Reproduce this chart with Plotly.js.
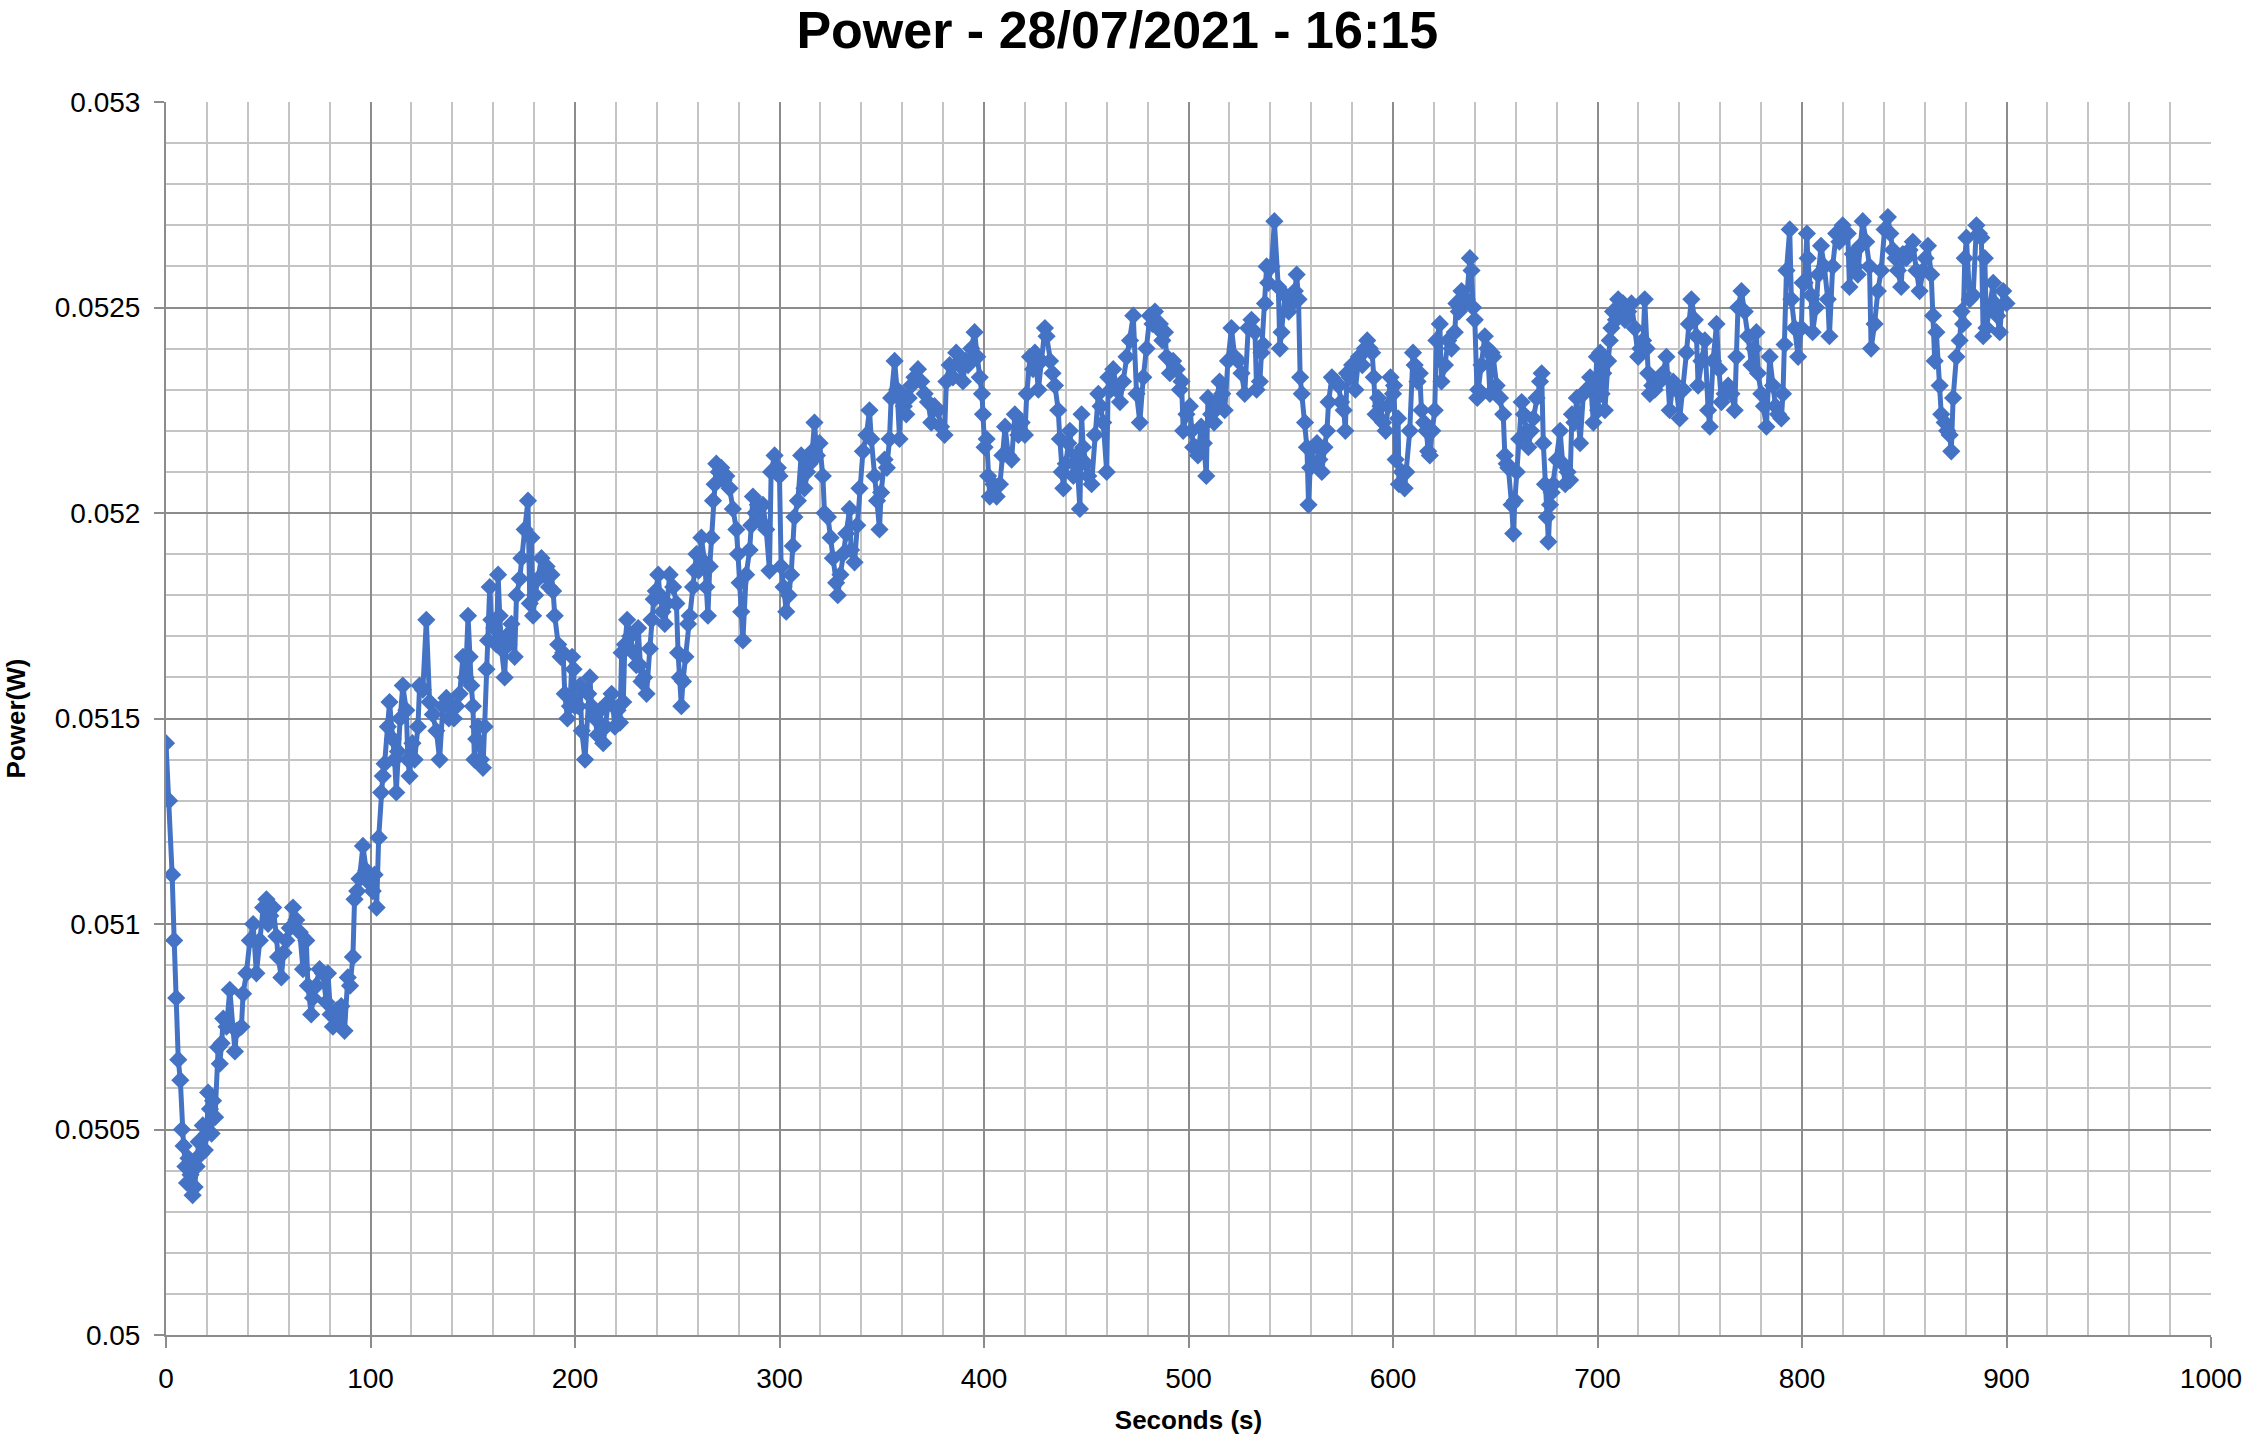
<!DOCTYPE html>
<html>
<head>
<meta charset="utf-8">
<script src="https://cdn.plot.ly/plotly-3.0.1.min.js"></script>
<style>html,body{margin:0;padding:0;background:#fff;}#chart{width:2248px;height:1447px;}</style>
</head>
<body>
<div id="chart"></div>
<script>
const chartTitle = 'Power - 28/07/2021 - 16:15';
const xAxisTitle = 'Seconds (s)';
const yAxisTitle = 'Power(W)';

// time stamps (s)
const seconds = [
0,1.5,3,4,5,6,7,7.8,8.6,9.5,
10.3,11,12,13,14,15,16,17,18,19,
20,20.6,21.5,22.3,23,24,25.5,26.3,27.2,28,
29.6,31.2,33.7,34.5,36.9,37.7,39.3,41,42.6,44.2,
45.9,47.5,49.1,49.9,51,52.4,54,54.8,56.4,57.5,
58.9,60.5,62.1,63.7,65.4,67,68.6,69.4,71,71.9,
73.5,75.1,76.7,78.4,79.2,80.5,81.6,83.3,84.5,85.7,
87.3,88.9,90,91.4,92.2,93.5,94.6,96.3,97.9,99.5,
101.1,102,103,104,105.2,106,106.9,108.5,109.3,110.9,
111.8,112.6,113.4,114.5,115.8,117.5,118.3,119.1,120.5,121.6,
123.2,124,125.6,127.3,128.9,130.5,132.2,133.8,135.4,137.1,
138.3,139.5,140.8,142,143.6,145.2,146.5,147.7,148.5,149.3,
150.1,150.8,151.7,152.6,154,155,155.8,156.7,157.5,158.3,
159.1,160.5,161.6,162.4,163.2,164,165.6,166.4,167.5,168.9,
170.5,171.4,173,173.8,175.4,177,177.9,178.7,179.5,180.5,
182,183.6,185,186.1,187.3,188.5,189.3,190.1,191.8,193,
194.2,195,196.3,197.5,198.6,199.3,200,201.6,202.5,203.3,
204.9,206.5,207.3,208.1,209.8,211,212.2,213.8,215,216.3,
217.9,219.5,220.8,222,222.8,223.6,224.4,225.5,227,228.5,
230,230.9,231.7,232.5,233.8,235,236.6,237.4,238.5,239.5,
240.7,241.5,242.8,243.9,245,246.3,248,249.6,250.4,251.2,
252,252.8,254,255.3,256.1,257.7,258.5,259.4,260.5,261.8,
263.4,264.2,265,265.9,266.7,267.5,268.3,269.1,270.3,271.5,
272.7,274,275.6,277.2,278.9,279.7,280.5,281.3,282.1,283.7,
285.4,286.2,287,288.2,289.4,290.6,291.9,293.5,295.1,295.9,
297.6,298.4,299.2,300,300.8,302,303.3,304.5,305.7,306.5,
307.3,309,310.6,312.2,313.5,314.7,316,317.1,318.3,319.6,
321.2,322,323.7,325,326.1,327.7,328.5,329.8,331,332.6,
334.3,335,336.7,338,339.1,340.8,342.5,344,344.9,346.5,
347.7,348.9,349.7,351.4,352.5,353.8,354.6,356.3,357.5,358.7,
359.5,360.8,362,363.2,364.4,366,367.7,369.3,371,372.6,
374.2,375.8,377.5,379,380.7,381.6,383.2,384.8,386.4,388,
389.7,391,392.2,393.8,395.4,396.7,397.9,399,399.5,400.3,
401.3,402,402.8,404.6,406.2,407.8,409,410.3,411.9,413.5,
415.1,416.8,418.4,420,420.9,422.5,424,424.9,426.6,428,
429.8,430.6,432.3,433.5,434.7,436.3,437.1,438,438.8,440,
441.2,442,443.7,445.3,446.9,447.7,448.5,449.8,451,452.6,
454.2,455.9,457,458.3,460,460.8,462,463.2,464.8,466.5,
468,469.7,471.4,473,474.6,476.2,477.9,479.5,481.1,482.4,
483.6,485,486,487.2,488.5,489.3,490.9,492.5,494.2,495.8,
496.6,497.4,499,500.7,501.5,502.3,503.5,504.6,506.2,507.5,
508.7,509.5,511.1,512.5,513.6,515.2,516.5,517.7,519.3,521,
522.6,524.3,525.9,527.5,529.2,530.8,532.5,533.3,534.9,535.7,
536.5,537.4,538.2,539,540.6,542,543.9,544.7,545.5,547.2,
549,550.5,552,552.9,553.8,554.6,555.4,557,557.9,558.7,
559.5,561,562.8,564,565.2,566.5,567.7,568.5,570.1,571.8,
573.4,574.6,575.9,576.7,577.5,578.8,580,581.6,583.3,585,
586.2,587.4,588.6,589.8,590.6,591.5,592.7,593.9,595.2,596.4,
597.6,598.8,600,600.5,601.3,602.5,602.9,604.3,605.7,606.5,
608.2,609.8,610.6,612,613.1,613.9,615.2,616.3,617.2,618,
619.2,620.4,621.2,622.9,623.7,625.4,627,628.6,630.2,631,
632.2,633.5,634.8,636,637.6,638.4,639.2,640,641.2,641.7,
643.3,644.9,646.2,647.4,648.2,649,650.7,652.3,653.9,654.7,
655.6,656.4,658,658.8,659.6,660.5,661.7,662.9,664,665.4,
666.2,667.5,668.6,670.2,671.9,672.7,673.5,674.3,675.2,676,
676.8,677.6,678.4,680.1,681.7,683,684.2,685.4,686.6,687.5,
688.7,689.9,691.5,693.1,694.7,696.4,698,699.7,700.3,701.3,
702,702.8,703.6,705.2,706,706.8,707.6,709,710.1,711.3,
712.5,713.4,715,716.6,718.2,719.9,721,722.3,723.1,724,
724.8,725.6,726.8,728,729.2,730.5,732,733.7,735.3,737,
738.6,740.2,741.9,743.5,744.7,745.9,747.6,748.4,749.2,750.8,
752.5,754.1,754.9,756.5,758.2,759.4,760.6,762.2,763.9,765.5,
767.1,767.9,768.7,770.4,772,773.6,775.3,776.5,777.7,778.5,
780.1,781.4,782.6,784.2,785.8,787,788.3,789.9,790.7,791.5,
792.4,794,794.8,796.4,798.1,799.7,800.3,801.3,802.4,802.8,
804.4,805.2,806.9,808,809.3,810.9,812.6,813.4,815,816.7,
818.3,819.9,821.2,822.4,823.2,824.8,826,827.3,828.5,829.7,
831.4,833,833.8,835.5,837.1,838.7,840.4,842,843.2,844.4,
845.7,846.9,848.5,849.3,851,852.6,854.2,855.9,857.5,859.2,
860.4,861.6,863.2,864.1,864.9,865.7,867.3,868.1,869.8,871,
872.2,873,873.9,875.5,877.1,878,878.8,879.6,880.4,882,
883.7,885.3,886.5,887.7,888.6,889.4,890.2,891.8,893.5,894.3,
895.5,896.7,898.4,900
];

// power (W)
const powerW = [
0.05144,0.05130,0.05112,0.05096,0.05082,0.05067,0.05062,0.05050,0.05046,0.05041,
0.05037,0.05043,0.05039,0.05034,0.05036,0.05041,0.05047,0.05044,0.05051,0.05045,
0.05049,0.05059,0.05055,0.05049,0.05057,0.05053,0.05070,0.05066,0.05071,0.05077,
0.05075,0.05084,0.05069,0.05074,0.05075,0.05083,0.05088,0.05096,0.05100,0.05088,
0.05096,0.05104,0.05106,0.05100,0.05102,0.05104,0.05097,0.05092,0.05087,0.05093,
0.05096,0.05099,0.05104,0.05101,0.05098,0.05089,0.05096,0.05085,0.05078,0.05082,
0.05085,0.05089,0.05088,0.05081,0.05088,0.05078,0.05075,0.05079,0.05077,0.05080,
0.05074,0.05087,0.05085,0.05092,0.05106,0.05108,0.05111,0.05119,0.05113,0.05110,
0.05108,0.05112,0.05104,0.05121,0.05132,0.05136,0.05139,0.05148,0.05154,0.05145,
0.05140,0.05132,0.05142,0.05150,0.05158,0.05152,0.05140,0.05136,0.05144,0.05140,
0.05148,0.05158,0.05157,0.05174,0.05154,0.05151,0.05147,0.05140,0.05153,0.05155,
0.05150,0.05153,0.05150,0.05153,0.05156,0.05165,0.05160,0.05175,0.05165,0.05158,
0.05153,0.05140,0.05145,0.05148,0.05140,0.05138,0.05148,0.05162,0.05169,0.05182,
0.05174,0.05172,0.05168,0.05185,0.05175,0.05167,0.05160,0.05170,0.05168,0.05173,
0.05165,0.05180,0.05184,0.05189,0.05196,0.05203,0.05178,0.05194,0.05175,0.05180,
0.05184,0.05189,0.05185,0.05187,0.05182,0.05185,0.05181,0.05175,0.05168,0.05165,
0.05166,0.05156,0.05150,0.05153,0.05165,0.05162,0.05153,0.05153,0.05158,0.05147,
0.05140,0.05156,0.05160,0.05153,0.05150,0.05146,0.05152,0.05144,0.05148,0.05154,
0.05156,0.05148,0.05152,0.05149,0.05166,0.05154,0.05168,0.05174,0.05170,0.05166,
0.05163,0.05172,0.05163,0.05159,0.05160,0.05156,0.05167,0.05174,0.05179,0.05181,
0.05185,0.05180,0.05176,0.05173,0.05178,0.05185,0.05182,0.05178,0.05166,0.05160,
0.05153,0.05159,0.05165,0.05173,0.05175,0.05182,0.05186,0.05190,0.05186,0.05194,
0.05188,0.05182,0.05175,0.05187,0.05194,0.05203,0.05207,0.05212,0.05210,0.05211,
0.05208,0.05209,0.05206,0.05201,0.05196,0.05190,0.05183,0.05176,0.05169,0.05185,
0.05191,0.05197,0.05204,0.05200,0.05202,0.05198,0.05202,0.05196,0.05186,0.05210,
0.05214,0.05210,0.05211,0.05209,0.05187,0.05182,0.05176,0.05180,0.05185,0.05192,
0.05199,0.05203,0.05214,0.05206,0.05210,0.05212,0.05215,0.05222,0.05214,0.05217,
0.05209,0.05200,0.05199,0.05194,0.05189,0.05183,0.05180,0.05185,0.05190,0.05195,
0.05201,0.05191,0.05188,0.05197,0.05206,0.05215,0.05219,0.05225,0.05218,0.05209,
0.05203,0.05196,0.05205,0.05213,0.05211,0.05218,0.05228,0.05237,0.05230,0.05218,
0.05229,0.05226,0.05224,0.05228,0.05231,0.05233,0.05235,0.05232,0.05229,0.05227,
0.05222,0.05226,0.05225,0.05221,0.05219,0.05232,0.05236,0.05233,0.05239,0.05236,
0.05232,0.05237,0.05236,0.05240,0.05244,0.05238,0.05233,0.05229,0.05224,0.05216,
0.05218,0.05209,0.05204,0.05207,0.05204,0.05207,0.05214,0.05221,0.05214,0.05213,
0.05224,0.05219,0.05222,0.05219,0.05229,0.05238,0.05235,0.05239,0.05230,0.05237,
0.05245,0.05243,0.05237,0.05234,0.05231,0.05225,0.05218,0.05210,0.05206,0.05212,
0.05217,0.05220,0.05209,0.05214,0.05201,0.05224,0.05216,0.05212,0.05209,0.05207,
0.05219,0.05229,0.05226,0.05222,0.05210,0.05233,0.05230,0.05235,0.05230,0.05227,
0.05232,0.05238,0.05242,0.05248,0.05229,0.05222,0.05233,0.05240,0.05248,0.05246,
0.05249,0.05245,0.05246,0.05242,0.05244,0.05238,0.05234,0.05237,0.05235,0.05230,
0.05232,0.05220,0.05224,0.05226,0.05220,0.05216,0.05216,0.05214,0.05221,0.05217,
0.05209,0.05228,0.05224,0.05222,0.05227,0.05232,0.05229,0.05225,0.05237,0.05245,
0.05238,0.05237,0.05234,0.05229,0.05245,0.05247,0.05244,0.05230,0.05232,0.05239,
0.05241,0.05251,0.05260,0.05256,0.05260,0.05271,0.05255,0.05240,0.05244,0.05253,
0.05249,0.05251,0.05254,0.05258,0.05252,0.05233,0.05229,0.05222,0.05216,0.05202,
0.05211,0.05216,0.05217,0.05213,0.05210,0.05216,0.05220,0.05227,0.05233,0.05232,
0.05231,0.05227,0.05225,0.05220,0.05234,0.05233,0.05236,0.05230,0.05238,0.05236,
0.05240,0.05242,0.05240,0.05239,0.05233,0.05224,0.05228,0.05226,0.05222,0.05220,
0.05226,0.05233,0.05229,0.05231,0.05213,0.05223,0.05207,0.05210,0.05206,0.05210,
0.05220,0.05239,0.05236,0.05232,0.05234,0.05225,0.05222,0.05220,0.05215,0.05214,
0.05220,0.05225,0.05242,0.05246,0.05232,0.05236,0.05242,0.05240,0.05244,0.05251,
0.05249,0.05254,0.05251,0.05252,0.05262,0.05259,0.05250,0.05247,0.05228,0.05230,
0.05236,0.05243,0.05240,0.05229,0.05239,0.05238,0.05231,0.05228,0.05224,0.05214,
0.05212,0.05211,0.05202,0.05195,0.05203,0.05210,0.05218,0.05227,0.05224,0.05220,
0.05216,0.05220,0.05223,0.05228,0.05232,0.05234,0.05217,0.05207,0.05199,0.05193,
0.05202,0.05205,0.05207,0.05213,0.05220,0.05212,0.05207,0.05210,0.05208,0.05224,
0.05222,0.05228,0.05217,0.05229,0.05230,0.05233,0.05222,0.05238,0.05225,0.05239,
0.05229,0.05234,0.05225,0.05237,0.05242,0.05245,0.05249,0.05247,0.05252,0.05249,
0.05251,0.05247,0.05249,0.05251,0.05245,0.05238,0.05240,0.05242,0.05252,0.05240,
0.05234,0.05229,0.05231,0.05230,0.05232,0.05232,0.05234,0.05238,0.05225,0.05232,
0.05230,0.05223,0.05230,0.05239,0.05246,0.05252,0.05247,0.05243,0.05231,0.05237,
0.05242,0.05225,0.05221,0.05237,0.05246,0.05235,0.05227,0.05229,0.05231,0.05229,
0.05225,0.05238,0.05250,0.05254,0.05249,0.05243,0.05236,0.05240,0.05244,0.05234,
0.05229,0.05226,0.05221,0.05238,0.05231,0.05226,0.05224,0.05223,0.05229,0.05241,
0.05259,0.05269,0.05252,0.05245,0.05238,0.05245,0.05256,0.05256,0.05268,0.05262,
0.05253,0.05244,0.05250,0.05258,0.05265,0.05260,0.05252,0.05243,0.05260,0.05268,
0.05266,0.05270,0.05268,0.05268,0.05255,0.05263,0.05260,0.05258,0.05265,0.05271,
0.05266,0.05260,0.05240,0.05246,0.05254,0.05259,0.05269,0.05272,0.05268,0.05264,
0.05262,0.05259,0.05255,0.05263,0.05262,0.05264,0.05266,0.05259,0.05254,0.05259,
0.05262,0.05265,0.05258,0.05248,0.05237,0.05244,0.05231,0.05224,0.05222,0.05220,
0.05219,0.05215,0.05228,0.05238,0.05242,0.05249,0.05246,0.05262,0.05267,0.05252,
0.05253,0.05270,0.05268,0.05267,0.05243,0.05262,0.05245,0.05250,0.05256,0.05251,
0.05248,0.05244,0.05254,0.05251
];

const xRange = [0, 1000];
const yRange = [0.05, 0.053];

const FONT = '"Liberation Sans", Arial, sans-serif';
const MAJOR = '#8c8c8c';
const MINOR = '#c4c4c4';
const SERIES = '#4472C4';

const trace = {
  x: seconds,
  y: powerW,
  type: 'scatter',
  mode: 'lines+markers',
  line: {color: SERIES, width: 5},
  marker: {symbol: 'diamond', size: 14, color: SERIES},
  hoverinfo: 'x+y'
};

const layout = {
  width: 2248,
  height: 1447,
  margin: {l: 166, r: 37, t: 102, b: 112, autoexpand: false},
  paper_bgcolor: '#ffffff',
  plot_bgcolor: '#ffffff',
  font: {family: FONT, color: '#000000'},
  showlegend: false,
  title: {
    text: chartTitle,
    font: {family: FONT, size: 52, weight: 700, color: '#000000'},
    x: 0.497, xanchor: 'center', xref: 'container',
    y: 1 - 30 / 1447, yanchor: 'middle', yref: 'container'
  },
  xaxis: {
    range: xRange,
    tickmode: 'linear', tick0: 0, dtick: 100,
    showgrid: true, gridcolor: MAJOR, gridwidth: 2,
    minor: {dtick: 20, tick0: 0, showgrid: true, gridcolor: MINOR, gridwidth: 2, ticks: ''},
    ticks: 'outside', ticklen: 11, tickwidth: 2, tickcolor: MAJOR,
    showline: true, linecolor: MAJOR, linewidth: 2,
    zeroline: false,
    tickfont: {family: FONT, size: 28, color: '#000'},
    ticklabelstandoff: 6,
    automargin: false,
    title: {text: xAxisTitle, font: {family: FONT, size: 26, weight: 700, color: '#000'}, standoff: 18}
  },
  yaxis: {
    range: yRange,
    tickmode: 'linear', tick0: 0.05, dtick: 0.0005,
    tickformat: '~g',
    showgrid: true, gridcolor: MAJOR, gridwidth: 2,
    minor: {dtick: 0.0001, tick0: 0.05, showgrid: true, gridcolor: MINOR, gridwidth: 2, ticks: ''},
    ticks: 'outside', ticklen: 10, tickwidth: 2, tickcolor: MAJOR,
    showline: true, linecolor: MAJOR, linewidth: 2,
    zeroline: false,
    tickfont: {family: FONT, size: 28, color: '#000'},
    ticklabelstandoff: 8,
    automargin: false,
    title: {text: yAxisTitle, font: {family: FONT, size: 26, weight: 700, color: '#000'}, standoff: 22}
  }
};

Plotly.newPlot('chart', [trace], layout, {displayModeBar: false, staticPlot: true});
</script>
</body>
</html>
